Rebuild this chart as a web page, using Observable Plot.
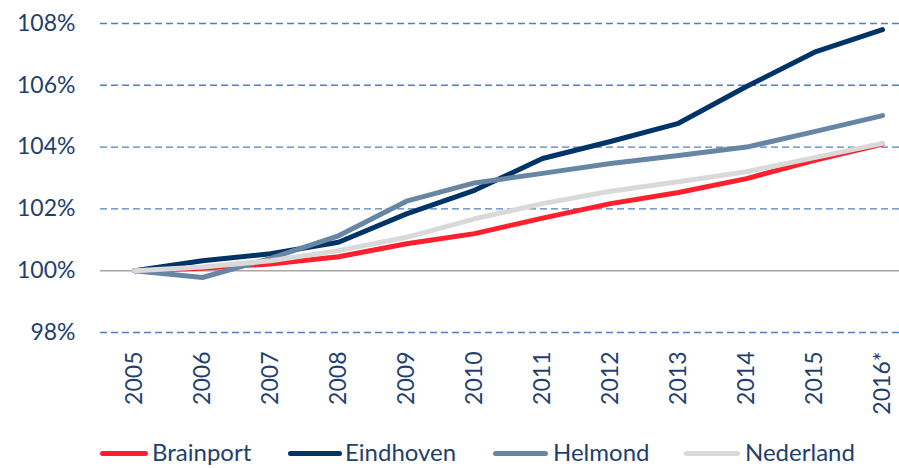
<!DOCTYPE html>
<html><head><meta charset="utf-8">
<script src="https://cdn.jsdelivr.net/npm/d3@7"></script>
<script src="https://cdn.jsdelivr.net/npm/@observablehq/plot@0.6"></script>
<style>
html,body{margin:0;padding:0;background:#fff;overflow:hidden;}
#chart svg{display:block;}
#legend{position:relative;height:28px;margin-top:-2px;font-family:Lato,sans-serif;font-size:24px;line-height:1.15;color:#1f3f6e;}
#legend .sw{position:absolute;height:5px;border-radius:3px;top:13px;}
#legend .lb{position:absolute;top:0;white-space:nowrap;}
</style></head><body>
<div id="chart"></div>
<div id="legend"></div>
<script>
const years = ["2005","2006","2007","2008","2009","2010","2011","2012","2013","2014","2015","2016*"];
const seriesNames = ["Brainport","Eindhoven","Helmond","Nederland"];
const seriesColors = ["#ff1f2d","#003366","#6786a4","#d9d9d9"];
const brainport = [100, 100.08, 100.22, 100.45, 100.87, 101.2, 101.7, 102.17, 102.53, 102.98, 103.57, 104.1];
const eindhoven = [100, 100.32, 100.55, 100.92, 101.84, 102.6, 103.63, 104.18, 104.77, 105.96, 107.07, 107.8];
const helmond   = [100, 99.78, 100.4, 101.13, 102.25, 102.84, 103.15, 103.47, 103.73, 104.0, 104.5, 105.02];
const nederland = [100, 100.12, 100.32, 100.65, 101.08, 101.68, 102.17, 102.57, 102.88, 103.2, 103.66, 104.12];
const yTicks = [98, 100, 102, 104, 106, 108];
const gridTicks = [98, 102, 104, 106, 108];

const seriesValues = [brainport, eindhoven, helmond, nederland];
const rows = [];
seriesNames.forEach((name, i) => years.forEach((yr, j) => rows.push({series: name, year: yr, value: seriesValues[i][j]})));

const textColor = "#1f3f6e";
const chart = Plot.plot({
  width: 899,
  height: 440,
  marginTop: 23,
  marginBottom: 108,
  marginLeft: 100,
  marginRight: 0,
  style: {fontFamily: "Lato, sans-serif", color: textColor, background: "#fff"},
  x: {type: "point", domain: years, range: [134, 882], padding: 0, axis: null},
  y: {domain: [98, 108], axis: null},
  color: {domain: seriesNames, range: seriesColors},
  marks: [
    Plot.ruleY(gridTicks, {stroke: "#4f7fbf", strokeWidth: 1.4, strokeDasharray: "7,4"}),
    Plot.ruleY([100], {stroke: "#a6a6a6", strokeWidth: 1.6}),
    Plot.axisY({ticks: yTicks, tickSize: 0, tickPadding: 25, tickFormat: d => d + "%", fontSize: 23, label: null}),
    Plot.text(years, {x: d => d, frameAnchor: "bottom", dy: 19, rotate: -90, textAnchor: "end", lineAnchor: "middle", fontSize: 23, fill: textColor}),
    Plot.line(rows, {x: "year", y: "value", z: "series", stroke: "series", strokeWidth: 5, strokeLinejoin: "round", strokeLinecap: "round"})
  ]
});
document.getElementById("chart").appendChild(chart);

const legendPos = [[100, 48, 152], [288, 54, 345], [493, 55, 553], [684, 56, 745]];
const legend = document.getElementById("legend");
seriesNames.forEach((name, i) => {
  const [sx, sw, tx] = legendPos[i];
  const s = document.createElement("div");
  s.className = "sw";
  s.style.left = sx + "px"; s.style.width = sw + "px"; s.style.background = seriesColors[i];
  const t = document.createElement("div");
  t.className = "lb"; t.style.left = tx + "px"; t.textContent = name;
  legend.appendChild(s); legend.appendChild(t);
});
</script>
</body></html>
